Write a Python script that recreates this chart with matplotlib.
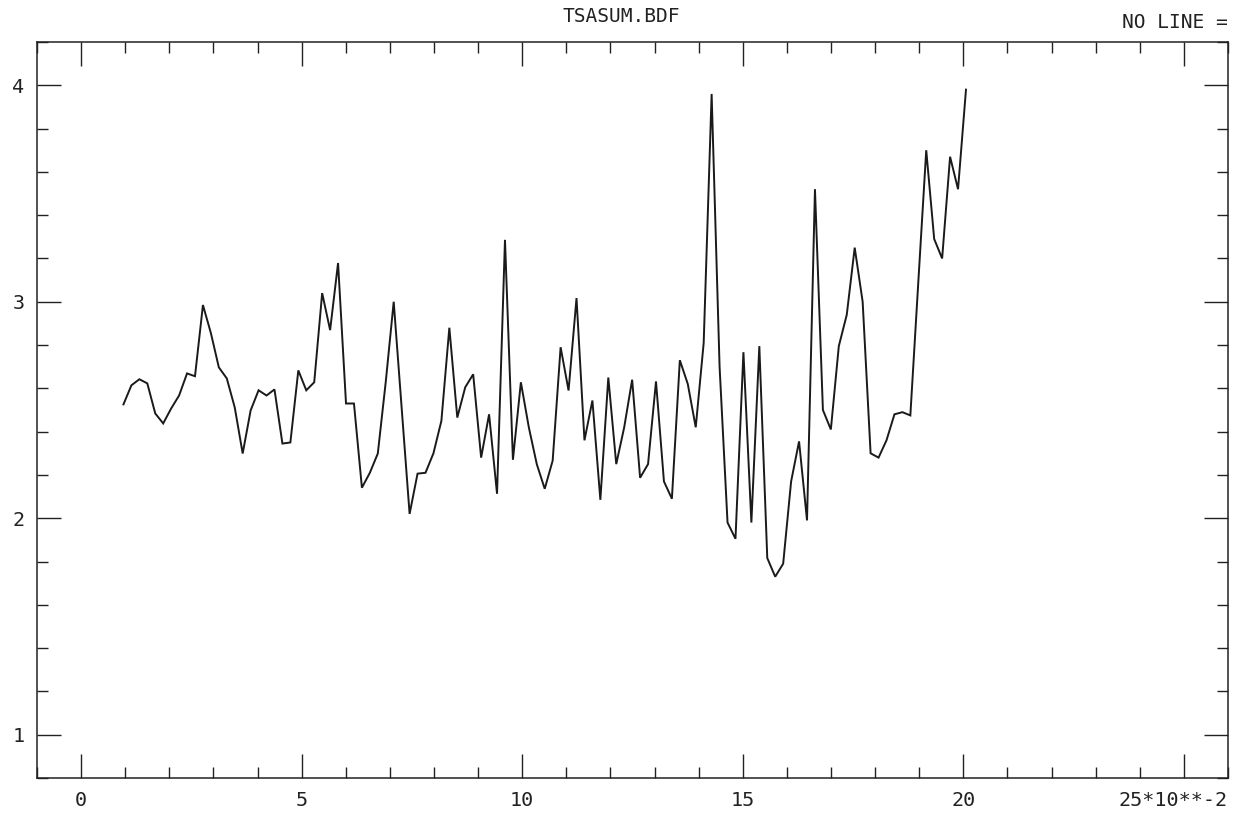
import numpy as np
import matplotlib
matplotlib.use("Agg")
import matplotlib.pyplot as plt
from matplotlib.ticker import MultipleLocator, FixedLocator

# ---- data ----
values = [
    2.526, 2.614, 2.642, 2.623, 2.484, 2.438, 2.507, 2.567, 2.669, 2.656,
    2.985, 2.855, 2.697, 2.646, 2.512, 2.299, 2.498, 2.591, 2.567, 2.595,
    2.345, 2.350, 2.683, 2.591, 2.628, 3.040, 2.869, 3.179, 2.530, 2.530,
    2.141, 2.210, 2.299, 2.630, 3.000,
    2.510, 2.020, 2.206, 2.210, 2.300, 2.450, 2.880, 2.465, 2.605, 2.665,
    2.280, 2.480, 2.113, 3.286, 2.270, 2.628, 2.420, 2.250, 2.136, 2.266,
    2.790, 2.590, 3.017, 2.360, 2.544, 2.085, 2.650, 2.250, 2.420, 2.640,
    2.187, 2.250, 2.632, 2.170, 2.090, 2.730,
    2.620, 2.420, 2.810, 3.960, 2.700, 1.980, 1.905, 2.767, 1.980, 2.795,
    1.816, 1.730, 1.790, 2.170, 2.355, 1.990, 3.520, 2.500, 2.410, 2.795,
    2.940, 3.250, 3.000, 2.300, 2.280, 2.360, 2.480, 2.490, 2.475, 3.090,
    3.700, 3.290, 3.200, 3.670, 3.520, 3.980,
]
x_first, x_last = 0.96, 20.06
x = np.linspace(x_first, x_last, len(values))

xtick_vals = [0, 5, 10, 15, 20, 25]
xtick_labels = ["0", "5", "10", "15", "20", ""]
ytick_vals = [1, 2, 3, 4]
ytick_labels = ["1", "2", "3", "4"]
title = "TSASUM.BDF"
corner_text = "NO LINE ="
xunit_text = "25*10**-2"

# ---- figure ----
plt.rcParams["font.family"] = ["DejaVu Sans Mono", "DejaVu Sans"]
fig = plt.figure(figsize=(12.43, 8.13), dpi=100)
ax = fig.add_axes([37 / 1243, 1 - 778 / 813, (1228 - 37) / 1243, (778 - 42) / 813])

ax.plot(x, values, color="#1a1a1a", lw=1.4, solid_joinstyle="miter")

ax.set_xlim(-1.0, 26.0)
ax.set_ylim(0.8, 4.2)

ax.xaxis.set_major_locator(FixedLocator(xtick_vals))
ax.set_xticklabels(xtick_labels)
ax.xaxis.set_minor_locator(MultipleLocator(1))
ax.yaxis.set_major_locator(FixedLocator(ytick_vals))
ax.set_yticklabels(ytick_labels)
ax.yaxis.set_minor_locator(MultipleLocator(0.2))

ax.tick_params(which="both", direction="in", top=True, right=True,
               color="#222222", width=1.0, labelsize=14.5, labelcolor="#222222")
ax.tick_params(which="major", length=17)
ax.tick_params(which="minor", length=8)
ax.tick_params(axis="x", pad=9)
ax.tick_params(axis="y", pad=9)

for s in ax.spines.values():
    s.set_linewidth(1.1)
    s.set_color("#222222")

ax.annotate(xunit_text, xy=(1.0, 0.0), xycoords="axes fraction",
            xytext=(0, -9), textcoords="offset points", ha="right", va="top",
            fontsize=14.5, color="#222222")

fig.text(0.5, 1 - 17 / 813, title, ha="center", va="center", fontsize=14, color="#222222")
fig.text(1228 / 1243, 1 - 22 / 813, corner_text, ha="right", va="center", fontsize=14,
         color="#222222")

fig.savefig("out.png", dpi=100, facecolor="white")
